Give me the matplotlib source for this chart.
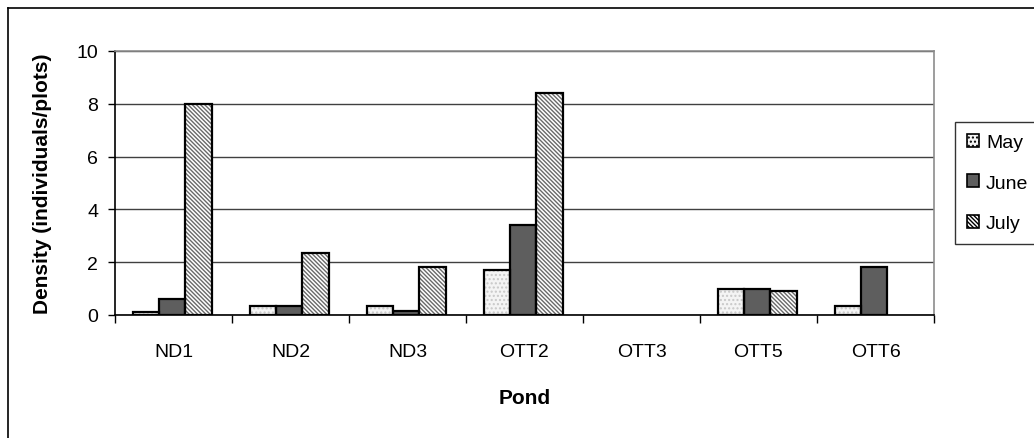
import numpy as np
import matplotlib.pyplot as plt
from matplotlib.lines import Line2D
from matplotlib.patches import Patch

plt.rcParams['font.family'] = ['Liberation Sans', 'DejaVu Sans']
plt.rcParams['hatch.linewidth'] = 1.0

ponds = ['ND1', 'ND2', 'ND3', 'OTT2', 'OTT3', 'OTT5', 'OTT6']
months = ['May', 'June', 'July']
may = [0.1, 0.33, 0.33, 1.7, 0, 1.0, 0.33]
june = [0.6, 0.33, 0.17, 3.4, 0, 1.0, 1.8]
july = [8.0, 2.33, 1.8, 8.4, 0, 0.9, 0]

fills = ['#f4f4f4', '#5e5e5e', 'white']
hatches = ['....', '', '\\' * 8]
hatch_cols = ['#c8c8c8', '#5e5e5e', '#6a6a6a']

fig = plt.figure(figsize=(10.34, 4.39), dpi=100)
ax = fig.add_axes([115/1034, 1 - 316/439, 819/1034, 264/439])

x = np.arange(len(ponds))
w = 0.225
for i, vals in enumerate([may, june, july]):
    pos = x + (i - 1) * w - 0.01
    vals = np.array(vals, dtype=float)
    ax.bar(pos, vals, w, color=fills[i], hatch=hatches[i],
           edgecolor=hatch_cols[i], linewidth=0, zorder=2)
    # outline only the non-empty bars
    nz = vals > 0
    ax.bar(pos[nz], vals[nz], w, fill=False, edgecolor='black', linewidth=1.6, zorder=3)

ax.set_xlim(-0.5, len(ponds) - 0.5)
ax.set_ylim(0, 10)
ax.set_yticks([0, 2, 4, 6, 8, 10])
ax.yaxis.grid(True, color='#404040', linewidth=1)
ax.set_axisbelow(True)

ax.set_xticks(np.arange(-0.5, len(ponds)), labels=[])
ax.set_xticks(x, labels=ponds, minor=True)
ax.tick_params(axis='x', which='major', length=6, width=1, direction='out')
ax.tick_params(axis='x', which='minor', length=0, pad=20, labelsize=14)
ax.tick_params(axis='y', length=5, width=1, direction='out', pad=7, labelsize=14)

for s in ['top', 'right']:
    ax.spines[s].set_color('#8c8c8c')
    ax.spines[s].set_linewidth(1.2)
for s in ['left', 'bottom']:
    ax.spines[s].set_color('black')
    ax.spines[s].set_linewidth(1.2)

ax.set_xlabel('Pond', fontsize=15, fontweight='bold', labelpad=20)
ax.set_ylabel('Density (individuals/plots)', fontsize=15, fontweight='bold', labelpad=18)

handles = [Patch(facecolor=fills[i], hatch=hatches[i], edgecolor='black', linewidth=1.2)
           for i in range(3)]
leg = fig.legend(handles, months, loc='upper left', bbox_to_anchor=(955/1034, 1 - 123/439),
                 frameon=True, fancybox=False, fontsize=14, handlelength=0.65,
                 handleheight=0.65, handletextpad=0.35, labelspacing=1.2,
                 borderpad=0.6, borderaxespad=0)
leg.get_frame().set_edgecolor('black')
leg.get_frame().set_linewidth(1)

# outer chart border (only top and left visible)
fig.add_artist(Line2D([8/1034, 8/1034], [0, 1 - 9/439], color='black', linewidth=1.2))
fig.add_artist(Line2D([8/1034, 1], [1 - 9/439, 1 - 9/439], color='black', linewidth=1.2))

fig.savefig('out.png', dpi=100)
